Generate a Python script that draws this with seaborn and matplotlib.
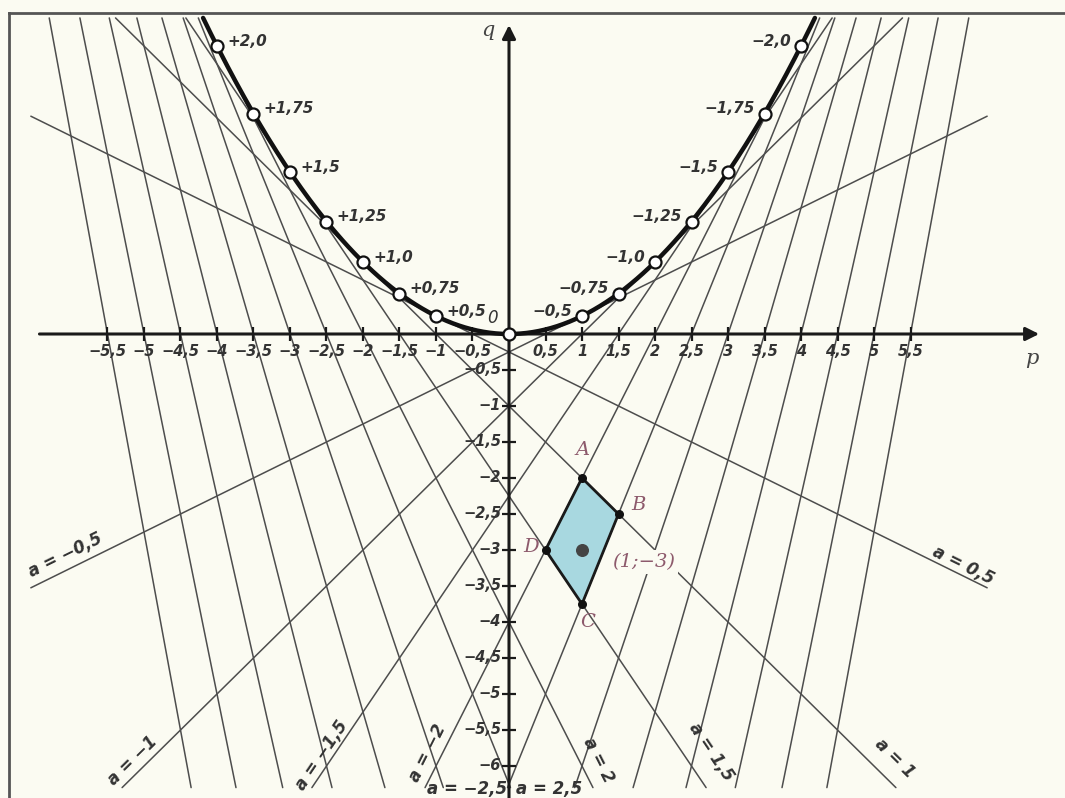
import numpy as np
import pandas as pd
import matplotlib
matplotlib.use("Agg")
import matplotlib.pyplot as plt
import seaborn as sns

# --- Datos ---
# rectas a^2 + p*a + q = 0  (q = -a p - a^2), una por cada raiz a
a_rectas = [0.5, 1.0, 1.5, 2.0, 2.5, 3.0, 3.5, 4.0, 4.5, 5.0, 5.5,
            -0.5, -1.0, -1.5, -2.0, -2.5, -3.0, -3.5, -4.0, -4.5, -5.0, -5.5]

# puntos de tangencia marcados sobre la parabola q = p^2/4
a_marcas = [2.0, 1.75, 1.5, 1.25, 1.0, 0.75, 0.5, 0.0,
            -0.5, -0.75, -1.0, -1.25, -1.5, -1.75, -2.0]
etiquetas_marcas = ["+2,0", "+1,75", "+1,5", "+1,25", "+1,0", "+0,75", "+0,5", "",
                    "−0,5", "−0,75", "−1,0", "−1,25", "−1,5", "−1,75", "−2,0"]

# rectas con nombre
a_nombradas = [-0.5, -1.0, -1.5, -2.0, -2.5, 2.5, 2.0, 1.5, 1.0, 0.5]
textos_nombradas = ["a = −0,5", "a = −1", "a = −1,5", "a = −2", "a = −2,5",
                    "a = 2,5", "a = 2", "a = 1,5", "a = 1", "a = 0,5"]

# ejes
ticks_p = [-5.5, -5, -4.5, -4, -3.5, -3, -2.5, -2, -1.5, -1, -0.5,
           0.5, 1, 1.5, 2, 2.5, 3, 3.5, 4, 4.5, 5, 5.5]
etiq_p = ["−5,5", "−5", "−4,5", "−4", "−3,5", "−3", "−2,5", "−2", "−1,5", "−1", "−0,5",
          "0,5", "1", "1,5", "2", "2,5", "3", "3,5", "4", "4,5", "5", "5,5"]
ticks_q = [-0.5, -1, -1.5, -2, -2.5, -3, -3.5, -4, -4.5, -5, -5.5, -6]
etiq_q = ["−0,5", "−1", "−1,5", "−2", "−2,5", "−3", "−3,5", "−4", "−4,5", "−5", "−5,5", "−6"]

# cuadrilatero ABCD y el punto (1;-3)
vert_nombres = ["A", "B", "C", "D"]
vert_p = [1.0, 1.5, 1.0, 0.5]
vert_q = [-2.0, -2.5, -3.75, -3.0]
punto_p, punto_q = 1.0, -3.0

# --- Estilo ---
fondo = "#fbfbf2"
sns.set_style("white")
plt.rcParams["font.family"] = ["DejaVu Sans"]

fig = plt.figure(figsize=(10.65, 7.98), dpi=100, facecolor=fondo)
ax = fig.add_axes([9 / 1065, 0, 1 - 9 / 1065, 1 - 13 / 798])
ax.set_facecolor(fondo)

ax.set_xlim((9 - 509) / 73, (1065 - 509) / 73)
ax.set_ylim((334 - 798) / 72, (334 - 13) / 72)

P_MIN, P_MAX = -6.55, 6.55
Q_MIN, Q_MAX = -6.3, 4.39

# --- Rectas ---
trozos = []
for a in a_rectas:
    p1 = (-a * a - Q_MAX) / a
    p2 = (-a * a - Q_MIN) / a
    lo = max(P_MIN, min(p1, p2))
    hi = min(P_MAX, max(p1, p2))
    ps = np.array([lo, hi])
    trozos.append(pd.DataFrame({"p": ps, "q": -a * ps - a * a, "a": a}))
df_rectas = pd.concat(trozos, ignore_index=True)
sns.lineplot(data=df_rectas, x="p", y="q", units="a", estimator=None, sort=False,
             color="#4d4d4d", lw=1.1, ax=ax, zorder=2)

# --- Parabola ---
p_par = np.linspace(-2 * np.sqrt(Q_MAX), 2 * np.sqrt(Q_MAX), 300)
df_par = pd.DataFrame({"p": p_par, "q": p_par ** 2 / 4})
sns.lineplot(data=df_par, x="p", y="q", sort=False, color="#111111", lw=3.2, ax=ax, zorder=4)

marcas_p = [-2 * a for a in a_marcas]
marcas_q = [a * a for a in a_marcas]
sns.scatterplot(x=marcas_p, y=marcas_q, s=75, color="white", edgecolor="#111111",
                linewidth=1.6, ax=ax, zorder=5)
for x, y, t, a in zip(marcas_p, marcas_q, etiquetas_marcas, a_marcas):
    if not t:
        continue
    if a > 0:
        ax.annotate(t, (x, y), xytext=(10, 5), textcoords="offset pixels", ha="left",
                    va="center", fontsize=11, style="italic", fontweight="bold", color="#333333")
    else:
        ax.annotate(t, (x, y), xytext=(-10, 5), textcoords="offset pixels", ha="right",
                    va="center", fontsize=11, style="italic", fontweight="bold", color="#333333")

# --- Ejes p y q ---
ax.annotate("", xy=(7.3, 0), xytext=(-6.47, 0),
            arrowprops=dict(arrowstyle="-|>", lw=2.2, color="#1a1a1a", mutation_scale=20), zorder=3)
ax.annotate("", xy=(0, 4.33), xytext=(0, -6.5),
            arrowprops=dict(arrowstyle="-|>", lw=2.2, color="#1a1a1a", mutation_scale=20), zorder=3)
ax.scatter(ticks_p, [0] * len(ticks_p), marker="|", s=90, color="#1a1a1a", lw=1.6, zorder=3)
ax.scatter([0] * len(ticks_q), ticks_q, marker="_", s=110, color="#1a1a1a", lw=1.6, zorder=3)

for x, t in zip(ticks_p, etiq_p):
    ax.annotate(t, (x, 0), xytext=(0, -18), textcoords="offset pixels", ha="center", va="center",
                fontsize=10.5, style="italic", fontweight="bold", color="#333333", zorder=6)
for y, t in zip(ticks_q, etiq_q):
    ax.annotate(t, (0, y), xytext=(-8, 0), textcoords="offset pixels", ha="right", va="center",
                fontsize=10.5, style="italic", fontweight="bold", color="#333333", zorder=6)

ax.annotate("0", (0, 0), xytext=(-17, 16), textcoords="offset pixels", ha="center", va="center",
            fontsize=12, style="italic", color="#333333")
ax.annotate("p", (7.3, 0), xytext=(-10, -24), textcoords="offset pixels", ha="center", va="center",
            fontsize=15, style="italic", family="DejaVu Serif", color="#444444")
ax.annotate("q", (0, 4.33), xytext=(-21, -8), textcoords="offset pixels", ha="center", va="center",
            fontsize=15, style="italic", family="DejaVu Serif", color="#444444")

# --- Nombres de las rectas ---
pos_nombres = [(-6.08, -3.07), (-5.15, -5.92), (-2.56, -5.85), (-1.12, -5.82), (-0.58, -6.32),
               (0.55, -6.32), (1.22, -5.92), (2.77, -5.81), (5.29, -5.89), (6.22, -3.21)]
for a, t, (x, y) in zip(a_nombradas, textos_nombradas, pos_nombres):
    rot = 0 if abs(a) == 2.5 else np.degrees(np.arctan(-a))
    ax.text(x, y, t, rotation=rot, transform_rotates_text=True, rotation_mode="anchor",
            ha="center", va="center", fontsize=12, style="italic", fontweight="bold",
            color="#333333", zorder=6)

# --- Cuadrilatero ABCD ---
ax.fill(vert_p, vert_q, color="#9fd5df", alpha=0.9, zorder=2.5, lw=0)
ax.plot(vert_p + vert_p[:1], vert_q + vert_q[:1], color="#1a1a1a", lw=2.0, zorder=6)
ax.scatter(vert_p, vert_q, s=30, color="#111111", zorder=7)
ax.scatter([punto_p], [punto_q], s=70, color="#444444", zorder=7)

color_letras = "#8d5a6c"
desplaz = [(1, 28), (20, 9), (6, -18), (-14, 3)]
for n, x, y, (dx, dy) in zip(vert_nombres, vert_p, vert_q, desplaz):
    ax.annotate(n, (x, y), xytext=(dx, dy), textcoords="offset pixels", ha="center", va="center",
                fontsize=14, style="italic", family="DejaVu Serif", color=color_letras, zorder=8)
ax.annotate("(1;−3)", (punto_p, punto_q), xytext=(62, -12), textcoords="offset pixels",
            ha="center", va="center", fontsize=14, style="italic", family="DejaVu Serif",
            color=color_letras, zorder=8,
            bbox=dict(boxstyle="square,pad=0.15", fc=fondo, ec="none"))

# --- Marco ---
for lado in ["right", "bottom"]:
    ax.spines[lado].set_visible(False)
for lado in ["left", "top"]:
    ax.spines[lado].set_color("#555555")
    ax.spines[lado].set_linewidth(2)
ax.set_xticks([])
ax.set_yticks([])
ax.set_xlabel("")
ax.set_ylabel("")

plt.savefig("out.png", dpi=100, facecolor=fondo)
